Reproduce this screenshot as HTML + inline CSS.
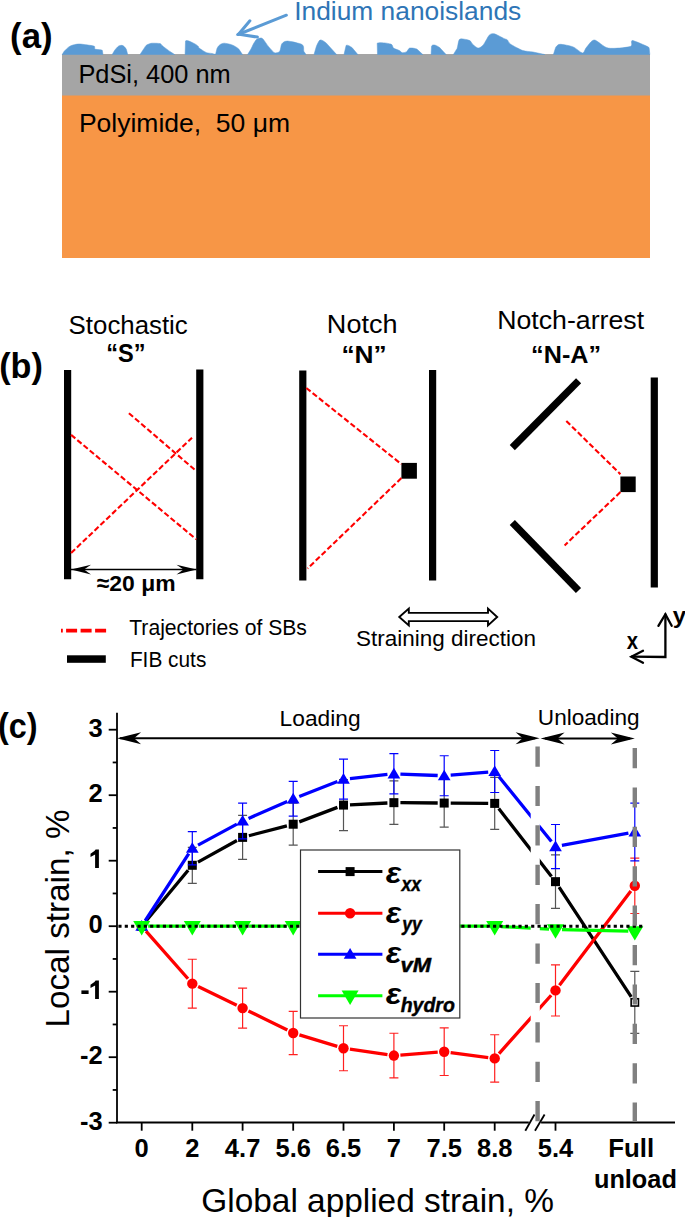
<!DOCTYPE html>
<html><head><meta charset="utf-8"><style>
html,body{margin:0;padding:0;background:#fff;}
body{width:685px;height:1217px;overflow:hidden;}
svg{display:block;font-family:"Liberation Sans", sans-serif;}
</style></head><body>
<svg width="685" height="1217" viewBox="0 0 685 1217">
<rect x="62" y="54" width="588" height="42" fill="#A5A5A5"/>
<rect x="62" y="95.5" width="588" height="162.5" fill="#F79646"/>
<path d="M62.2,54.5L64,51.5C64.88,50.49 67.60,47.77 68.8,46.9C70.00,46.03 71.64,45.39 73,45C74.36,44.61 77.27,44.03 79,44C80.73,43.97 83.96,44.51 86,44.8C88.04,45.09 93.10,45.63 94.3,46.2C95.50,46.77 93.93,48.55 95,49.1C96.07,49.65 101.23,49.58 102.3,50.3L103,54.5Z" fill="#5B9BD5" stroke="#5B9BD5" stroke-width="0.5" stroke-linejoin="round"/>
<path d="M112.2,54.5L114.5,50.5C115.33,49.39 117.40,46.89 118.4,46.2C119.40,45.51 121.23,45.25 122,45.3C122.77,45.35 123.61,46.04 124.2,46.6C124.79,47.16 125.93,48.45 126.4,49.5L127.7,54.5Z" fill="#5B9BD5" stroke="#5B9BD5" stroke-width="0.5" stroke-linejoin="round"/>
<path d="M140,54.5L143,50C143.81,48.79 145.30,46.20 146.1,45.4C146.90,44.60 148.21,44.29 149,44C149.79,43.71 150.53,43.25 152,43.2C153.47,43.15 158.67,43.29 160,43.6C161.33,43.91 161.23,44.86 162,45.5C162.77,46.14 164.73,47.60 165.8,48.4C166.87,49.20 168.83,50.69 170,51.5L174.6,54.5Z" fill="#5B9BD5" stroke="#5B9BD5" stroke-width="0.5" stroke-linejoin="round"/>
<path d="M185.1,54.5L185.5,41C186.63,39.49 191.91,42.51 193.6,43.2C195.29,43.89 197.52,45.61 198.2,46.2C198.88,46.79 198.19,47.09 198.7,47.6C199.21,48.11 200.93,49.32 202,50C203.07,50.68 205.37,52.23 206.7,52.7C208.03,53.17 210.83,53.26 212,53.5L215.5,54.5Z" fill="#5B9BD5" stroke="#5B9BD5" stroke-width="0.5" stroke-linejoin="round"/>
<path d="M215.5,54.5L217,48.4C217.59,47.09 218.94,45.39 219.9,44.7C220.86,44.01 222.65,43.20 224.2,43.2C225.75,43.20 229.93,44.19 231.5,44.7C233.07,45.21 235.03,46.41 236,47C236.97,47.59 237.93,48.10 238.8,49.1L242.5,54.5Z" fill="#5B9BD5" stroke="#5B9BD5" stroke-width="0.5" stroke-linejoin="round"/>
<path d="M247.6,54.5L251,49C251.77,47.60 252.68,45.25 253.4,44C254.12,42.75 255.52,40.39 256.4,39.6C257.28,38.81 259.13,38.19 260,38.1C260.87,38.01 261.73,37.73 262.9,38.9C264.07,40.07 267.24,45.06 268.8,46.9C270.36,48.74 273.15,52.11 274.6,52.7C276.05,53.29 278.73,52.50 279.7,51.3C280.67,50.10 280.83,45.06 281.9,43.7C282.97,42.34 284.98,40.97 287.7,41.1C290.42,41.23 300.15,43.34 302.3,44.7C304.45,46.06 303.31,49.99 303.8,51.3L306,54.5Z" fill="#5B9BD5" stroke="#5B9BD5" stroke-width="0.5" stroke-linejoin="round"/>
<path d="M314,54.5L316.2,46.9C317.01,44.97 318.74,40.49 320.1,40C321.46,39.51 324.20,41.27 326.4,43.2L336.6,54.5Z" fill="#5B9BD5" stroke="#5B9BD5" stroke-width="0.5" stroke-linejoin="round"/>
<path d="M344,54.5L346.1,45.4C347.17,44.48 350.44,46.39 352,47.6L357.8,54.5Z" fill="#5B9BD5" stroke="#5B9BD5" stroke-width="0.5" stroke-linejoin="round"/>
<path d="M377.5,54.5L377.2,43.2C378.96,41.80 388.51,43.35 390.7,44C392.89,44.65 392.44,47.23 393.6,48.1C394.76,48.97 398.24,49.89 399.4,50.5C400.56,51.11 401.33,52.54 402.3,52.7C403.27,52.86 405.73,52.31 406.7,51.7C407.67,51.09 408.24,48.45 409.6,48.1C410.96,47.75 415.14,48.25 416.9,49.1L422.8,54.5Z" fill="#5B9BD5" stroke="#5B9BD5" stroke-width="0.5" stroke-linejoin="round"/>
<path d="M431.1,54.5L431.5,46.2C431.95,44.93 433.42,44.81 434.5,45C435.58,45.19 438.05,46.33 439.6,47.6L446.1,54.5Z" fill="#5B9BD5" stroke="#5B9BD5" stroke-width="0.5" stroke-linejoin="round"/>
<path d="M453.4,54.5L457.1,48.4C457.89,46.41 458.33,40.83 459.3,39.6C460.27,38.37 462.95,39.04 464.4,39.2C465.85,39.36 469.13,40.16 470.2,40.8C471.27,41.44 471.33,43.03 472.4,44C473.47,44.97 476.73,48.01 478.2,48.1C479.67,48.19 481.93,46.42 483.4,44.7C484.87,42.98 487.75,36.65 489.2,35.2C490.65,33.75 492.35,33.37 494.3,33.8C496.25,34.23 502.05,37.59 503.8,38.4C505.55,39.21 506.52,39.15 507.4,39.9C508.28,40.65 508.35,42.59 510.4,44C512.45,45.41 519.79,49.43 522.8,50.5C525.81,51.57 530.08,51.47 533,52L544.7,54.5Z" fill="#5B9BD5" stroke="#5B9BD5" stroke-width="0.5" stroke-linejoin="round"/>
<path d="M553.4,54.5L555.6,47.6C556.48,46.24 557.67,44.39 560,44.3C562.33,44.21 570.09,45.74 573.1,46.9C576.11,48.06 580.84,52.91 582.6,53C584.36,53.09 584.74,49.33 586.3,47.6C587.86,45.87 591.38,39.93 594.3,40C597.22,40.07 603.44,47.22 608.2,48.1C612.96,48.98 626.89,47.49 630,46.6C633.11,45.71 631.01,42.17 631.5,41.4C631.99,40.63 631.55,40.11 633.7,40.8C635.85,41.49 645.52,45.49 647.6,46.6C649.68,47.71 649.01,48.05 649.3,49.1L649.8,54.5Z" fill="#5B9BD5" stroke="#5B9BD5" stroke-width="0.5" stroke-linejoin="round"/>
<g stroke="#5B9BD5" stroke-width="3" stroke-linecap="round" fill="none"><line x1="286.4" y1="15.2" x2="238" y2="34.5"/><polyline points="249.9,20.8 238.6,34.2 257.4,37.1" stroke-linejoin="miter"/></g>
<text x="294.17" y="19.6" font-size="25.6" text-anchor="start" fill="#2E75B6" textLength="227.08" lengthAdjust="spacingAndGlyphs" >Indium nanoislands</text>
<text x="78.42" y="82.6" font-size="26" text-anchor="start" textLength="152.25" lengthAdjust="spacingAndGlyphs" >PdSi, 400 nm</text>
<text x="78.93" y="131.9" font-size="26" text-anchor="start" textLength="211.12" lengthAdjust="spacingAndGlyphs" >Polyimide,&#160; 50 μm</text>
<text x="10.07" y="48.3" font-size="35.7" text-anchor="start" font-weight="bold" textLength="42.46" lengthAdjust="spacingAndGlyphs" >(a)</text>
<text x="-0.8" y="378" font-size="35.7" text-anchor="start" font-weight="bold" textLength="43.71" lengthAdjust="spacingAndGlyphs" >(b)</text>
<text x="68.63" y="334" font-size="25.3" text-anchor="start" textLength="119.15" lengthAdjust="spacingAndGlyphs" >Stochastic</text>
<text x="106.26" y="362.2" font-size="25" text-anchor="start" font-weight="bold" textLength="39.29" lengthAdjust="spacingAndGlyphs" >“S”</text>
<text x="326.88" y="333.4" font-size="25.5" text-anchor="start" textLength="70.57" lengthAdjust="spacingAndGlyphs" >Notch</text>
<text x="341.46" y="363.4" font-size="24.8" text-anchor="start" font-weight="bold" textLength="45.29" lengthAdjust="spacingAndGlyphs" >“N”</text>
<text x="497.21" y="329.4" font-size="25.2" text-anchor="start" textLength="146.89" lengthAdjust="spacingAndGlyphs" >Notch-arrest</text>
<text x="531.14" y="362.5" font-size="24.8" text-anchor="start" font-weight="bold" textLength="69.92" lengthAdjust="spacingAndGlyphs" >“N-A”</text>
<line x1="67.6" y1="370" x2="67.6" y2="579.3" stroke="#000" stroke-width="7.2"/>
<line x1="199.8" y1="369.4" x2="199.8" y2="579.3" stroke="#000" stroke-width="7.2"/>
<line x1="302.8" y1="370.4" x2="302.8" y2="580.6" stroke="#000" stroke-width="7.2"/>
<line x1="432.6" y1="369.9" x2="432.6" y2="580.6" stroke="#000" stroke-width="7.2"/>
<line x1="654.3" y1="377.4" x2="654.3" y2="587.5" stroke="#000" stroke-width="7.2"/>
<line x1="512.3" y1="447.6" x2="578.6" y2="380.8" stroke="#000" stroke-width="7.2"/>
<line x1="512.3" y1="522.5" x2="578.5" y2="590.5" stroke="#000" stroke-width="7.2"/>
<rect x="401.4" y="462.9" width="15.5" height="15.8"/>
<rect x="620.4" y="476.5" width="15.3" height="15.6"/>
<line x1="71.1" y1="434.9" x2="196.2" y2="539.3" stroke="#FF0000" stroke-width="2.1" stroke-dasharray="5.5,2.6" fill="none"/>
<line x1="71.1" y1="553" x2="192" y2="437.7" stroke="#FF0000" stroke-width="2.1" stroke-dasharray="5.5,2.6" fill="none"/>
<line x1="128.9" y1="413.2" x2="196.2" y2="471" stroke="#FF0000" stroke-width="2.1" stroke-dasharray="5.5,2.6" fill="none"/>
<line x1="306.3" y1="388" x2="401.4" y2="464.2" stroke="#FF0000" stroke-width="2.1" stroke-dasharray="5.5,2.6" fill="none"/>
<line x1="401.4" y1="478.1" x2="307.6" y2="568.5" stroke="#FF0000" stroke-width="2.1" stroke-dasharray="5.5,2.6" fill="none"/>
<line x1="566.3" y1="421" x2="620.4" y2="474.2" stroke="#FF0000" stroke-width="2.1" stroke-dasharray="5.5,2.6" fill="none"/>
<line x1="620.4" y1="492.1" x2="564.6" y2="545.4" stroke="#FF0000" stroke-width="2.1" stroke-dasharray="5.5,2.6" fill="none"/>
<line x1="71" y1="569.6" x2="196.5" y2="569.6" stroke="#000" stroke-width="1.5"/>
<path d="M71,569.6 L91,564.8 L84,569.6 L91,574.4 Z" fill="#000"/>
<path d="M196.5,569.6 L176.5,564.8 L183.5,569.6 L176.5,574.4 Z" fill="#000"/>
<text x="96.72" y="590.8" font-size="22.8" text-anchor="start" font-weight="bold" textLength="78.8" lengthAdjust="spacingAndGlyphs" >≈20 μm</text>
<line x1="61" y1="630.6" x2="106.2" y2="630.6" stroke="#FF0000" stroke-width="3.8" stroke-dasharray="1.8,3.3,11,3.5,11,3.5,11"/>
<rect x="67" y="655.3" width="38.8" height="7.5"/>
<text x="129.23" y="634.7" font-size="21.8" text-anchor="start" textLength="177.73" lengthAdjust="spacingAndGlyphs" >Trajectories of SBs</text>
<text x="129.89" y="667" font-size="21.8" text-anchor="start" textLength="76.46" lengthAdjust="spacingAndGlyphs" >FIB cuts</text>
<path d="M399.3,617 L408.8,608.6 L408.8,612.9 L488,612.9 L488,608.6 L497.2,617 L488,625.4 L488,621.1 L408.8,621.1 L408.8,625.4 Z" fill="#fff" stroke="#000" stroke-width="1.9" stroke-linejoin="miter"/>
<text x="355.98" y="645.5" font-size="21.6" text-anchor="start" textLength="179.98" lengthAdjust="spacingAndGlyphs" >Straining direction</text>
<g stroke="#000" stroke-width="2.3" fill="none" stroke-linecap="round"><polyline points="665.4,614.5 665.4,657 631.8,656.7"/><polyline points="658.4,625.8 665.4,614.2 671.7,625.8"/><polyline points="643,650.8 631.4,656.7 643,662.8"/></g>
<text x="626.66" y="648.9" font-size="23" text-anchor="start" font-weight="bold" textLength="11.29" lengthAdjust="spacingAndGlyphs" >x</text>
<text x="672.81" y="622.9" font-size="22.6" text-anchor="start" font-weight="bold" textLength="13.32" lengthAdjust="spacingAndGlyphs" >y</text>
<text x="-2.11" y="737.6" font-size="35.7" text-anchor="start" font-weight="bold" textLength="39.63" lengthAdjust="spacingAndGlyphs" >(c)</text>
<line x1="117" y1="712.8" x2="117" y2="1123.3" stroke="#000" stroke-width="1.8"/>
<line x1="116.1" y1="1122.5" x2="528.8" y2="1122.5" stroke="#000" stroke-width="1.8"/>
<line x1="541.1" y1="1122.5" x2="675" y2="1122.5" stroke="#000" stroke-width="1.8"/>
<g stroke="#000" stroke-width="1.8"><line x1="525.3" y1="1130.7" x2="534.5" y2="1114.5"/><line x1="535" y1="1130.7" x2="544.6" y2="1114.5"/></g>
<line x1="108.7" y1="1122.7" x2="117" y2="1122.7" stroke="#000" stroke-width="1.8"/>
<text x="102.8" y="1129.9" font-size="25.5" text-anchor="end" font-weight="bold" >-3</text>
<line x1="108.7" y1="1057.2" x2="117" y2="1057.2" stroke="#000" stroke-width="1.8"/>
<text x="102.8" y="1064.4" font-size="25.5" text-anchor="end" font-weight="bold" >-2</text>
<line x1="108.7" y1="991.7" x2="117" y2="991.7" stroke="#000" stroke-width="1.8"/>
<path d="M98.9,980.60V998.90H95.1V985.40L90.5,988.00V984.80L94.4,982.10L95.6,980.60Z" fill="#000"/>
<rect x="81.4" y="990.40" width="7.2" height="3.6" fill="#000"/>
<line x1="108.7" y1="926.2" x2="117" y2="926.2" stroke="#000" stroke-width="1.8"/>
<text x="102.8" y="933.4000000000001" font-size="25.5" text-anchor="end" font-weight="bold" >0</text>
<line x1="108.7" y1="860.7" x2="117" y2="860.7" stroke="#000" stroke-width="1.8"/>
<path d="M98.9,849.60V867.90H95.1V854.40L90.5,857.00V853.80L94.4,851.10L95.6,849.60Z" fill="#000"/>
<line x1="108.7" y1="795.2" x2="117" y2="795.2" stroke="#000" stroke-width="1.8"/>
<text x="102.8" y="802.4000000000001" font-size="25.5" text-anchor="end" font-weight="bold" >2</text>
<line x1="108.7" y1="729.7" x2="117" y2="729.7" stroke="#000" stroke-width="1.8"/>
<text x="102.8" y="736.9000000000001" font-size="25.5" text-anchor="end" font-weight="bold" >3</text>
<line x1="112.7" y1="1089.95" x2="117" y2="1089.95" stroke="#000" stroke-width="1.8"/>
<line x1="112.7" y1="1024.45" x2="117" y2="1024.45" stroke="#000" stroke-width="1.8"/>
<line x1="112.7" y1="958.95" x2="117" y2="958.95" stroke="#000" stroke-width="1.8"/>
<line x1="112.7" y1="893.45" x2="117" y2="893.45" stroke="#000" stroke-width="1.8"/>
<line x1="112.7" y1="827.95" x2="117" y2="827.95" stroke="#000" stroke-width="1.8"/>
<line x1="112.7" y1="762.45" x2="117" y2="762.45" stroke="#000" stroke-width="1.8"/>
<line x1="141.7" y1="1122.5" x2="141.7" y2="1130.7" stroke="#000" stroke-width="1.8"/>
<text x="141.7" y="1156.8" font-size="25.5" text-anchor="middle" font-weight="bold" >0</text>
<line x1="192.3" y1="1122.5" x2="192.3" y2="1130.7" stroke="#000" stroke-width="1.8"/>
<text x="192.3" y="1156.8" font-size="25.5" text-anchor="middle" font-weight="bold" >2</text>
<line x1="242.6" y1="1122.5" x2="242.6" y2="1130.7" stroke="#000" stroke-width="1.8"/>
<text x="242.6" y="1156.8" font-size="25.5" text-anchor="middle" font-weight="bold" >4.7</text>
<line x1="293.2" y1="1122.5" x2="293.2" y2="1130.7" stroke="#000" stroke-width="1.8"/>
<text x="293.2" y="1156.8" font-size="25.5" text-anchor="middle" font-weight="bold" >5.6</text>
<line x1="343.5" y1="1122.5" x2="343.5" y2="1130.7" stroke="#000" stroke-width="1.8"/>
<text x="343.5" y="1156.8" font-size="25.5" text-anchor="middle" font-weight="bold" >6.5</text>
<line x1="393.9" y1="1122.5" x2="393.9" y2="1130.7" stroke="#000" stroke-width="1.8"/>
<text x="393.9" y="1156.8" font-size="25.5" text-anchor="middle" font-weight="bold" >7</text>
<line x1="444.2" y1="1122.5" x2="444.2" y2="1130.7" stroke="#000" stroke-width="1.8"/>
<text x="444.2" y="1156.8" font-size="25.5" text-anchor="middle" font-weight="bold" >7.5</text>
<line x1="494.7" y1="1122.5" x2="494.7" y2="1130.7" stroke="#000" stroke-width="1.8"/>
<text x="494.7" y="1156.8" font-size="25.5" text-anchor="middle" font-weight="bold" >8.8</text>
<line x1="555.5" y1="1122.5" x2="555.5" y2="1130.7" stroke="#000" stroke-width="1.8"/>
<text x="555.5" y="1156.8" font-size="25.5" text-anchor="middle" font-weight="bold" >5.4</text>
<text x="608.37" y="1157" font-size="25.5" text-anchor="start" font-weight="bold" textLength="45.85" lengthAdjust="spacingAndGlyphs" >Full</text>
<text x="593.93" y="1188.4" font-size="25.5" text-anchor="start" font-weight="bold" textLength="82.94" lengthAdjust="spacingAndGlyphs" >unload</text>
<text x="201.32" y="1211.5" font-size="33" text-anchor="start" textLength="352.57" lengthAdjust="spacingAndGlyphs" >Global applied strain, %</text>
<text transform="translate(68.6,1024.8) rotate(-90)" x="-2.73" y="0" font-size="33" textLength="218.01" lengthAdjust="spacingAndGlyphs">Local strain, %</text>
<line x1="120" y1="738.2" x2="535" y2="738.2" stroke="#000" stroke-width="2"/>
<path d="M117.1,738.2 L141.1,732.2 L134.1,738.2 L141.1,744.2 Z" fill="#000"/>
<path d="M539.6,738.2 L515.6,732.2 L522.6,738.2 L515.6,744.2 Z" fill="#000"/>
<line x1="545" y1="738.6" x2="630" y2="738.6" stroke="#000" stroke-width="2"/>
<path d="M540.6,738.6 L564.6,732.6 L557.6,738.6 L564.6,744.6 Z" fill="#000"/>
<path d="M634.8,738.6 L610.8,732.6 L617.8,738.6 L610.8,744.6 Z" fill="#000"/>
<text x="279.63" y="725.5" font-size="22" text-anchor="start" textLength="80.93" lengthAdjust="spacingAndGlyphs" >Loading</text>
<text x="537.86" y="725" font-size="22" text-anchor="start" textLength="101.7" lengthAdjust="spacingAndGlyphs" >Unloading</text>
<clipPath id="brk"><rect x="0" y="0" width="530.7" height="1217"/><rect x="539.8" y="0" width="685" height="1217"/></clipPath>
<path d="M145.85,921.20L188.15,870.28M197.98,862.13L236.92,840.54M248.89,835.75L286.91,825.85M299.28,821.91L337.42,807.40M349.99,804.78L387.41,802.98M400.40,802.72L437.70,803.01M450.70,803.10L488.20,803.35M498.69,808.52L551.51,876.53M559.07,887.09L631.23,996.94" fill="none" stroke="#000" stroke-width="3.3" clip-path="url(#brk)"/>
<path d="M192.3,847.29V883.29M187.8,847.29H196.8M187.8,883.29H196.8M242.6,815.38V859.38M238.1,815.38H247.1M238.1,859.38H247.1M293.2,803.22V845.22M288.7,803.22H297.7M288.7,845.22H297.7M343.5,779.49V830.69M339.0,779.49H348.0M339.0,830.69H348.0M393.9,780.97V824.37M389.4,780.97H398.4M389.4,824.37H398.4M444.2,779.06V827.06M439.7,779.06H448.7M439.7,827.06H448.7M494.7,777.39V829.39M490.2,777.39H499.2M490.2,829.39H499.2M555.5,854.91V908.41M551.0,854.91H560.0M551.0,908.41H560.0M634.8,971.38V1033.38M630.3,971.38H639.3M630.3,1033.38H639.3" stroke="#555555" stroke-width="1.2" fill="none"/>
<rect x="137.20" y="921.70" width="9" height="9" fill="#000"/>
<rect x="187.80" y="860.79" width="9" height="9" fill="#000"/>
<rect x="238.10" y="832.88" width="9" height="9" fill="#000"/>
<rect x="288.70" y="819.72" width="9" height="9" fill="#000"/>
<rect x="339.00" y="800.59" width="9" height="9" fill="#000"/>
<rect x="389.40" y="798.17" width="9" height="9" fill="#000"/>
<rect x="439.70" y="798.56" width="9" height="9" fill="#000"/>
<rect x="490.20" y="798.89" width="9" height="9" fill="#000"/>
<rect x="551.00" y="877.16" width="9" height="9" fill="#000"/>
<rect x="631.15" y="998.73" width="7.3" height="7.3" fill="#fff" stroke="#000" stroke-width="1.6"/>
<path d="M146.00,931.08L188.00,978.77M198.15,986.48L236.75,1005.24M248.43,1010.94L287.37,1030.10M299.42,1034.85L337.28,1046.34M349.93,1049.16L387.47,1054.63M400.38,1055.06L437.72,1052.20M450.64,1052.55L488.26,1057.53M499.03,1053.53L551.17,995.24M559.43,985.21L630.87,890.97" fill="none" stroke="#FF0000" stroke-width="3.3" clip-path="url(#brk)"/>
<path d="M192.3,959.24V1008.04M187.8,959.24H196.8M187.8,1008.04H196.8M242.6,988.08V1028.08M238.1,988.08H247.1M238.1,1028.08H247.1M293.2,1011.37V1054.57M288.7,1011.37H297.7M288.7,1054.57H297.7M343.5,1025.73V1070.73M339.0,1025.73H348.0M339.0,1070.73H348.0M393.9,1033.26V1077.86M389.4,1033.26H398.4M389.4,1077.86H398.4M444.2,1027.90V1075.50M439.7,1027.90H448.7M439.7,1075.50H448.7M494.7,1034.73V1082.03M490.2,1034.73H499.2M490.2,1082.03H499.2M555.5,964.79V1015.99M551.0,964.79H560.0M551.0,1015.99H560.0M634.8,858.09V913.49M630.3,858.09H639.3M630.3,913.49H639.3" stroke="#FF2020" stroke-width="1.2" fill="none"/>
<circle cx="141.7" cy="926.20" r="5.2" fill="#FF0000"/>
<circle cx="192.3" cy="983.64" r="5.2" fill="#FF0000"/>
<circle cx="242.6" cy="1008.08" r="5.2" fill="#FF0000"/>
<circle cx="293.2" cy="1032.97" r="5.2" fill="#FF0000"/>
<circle cx="343.5" cy="1048.23" r="5.2" fill="#FF0000"/>
<circle cx="393.9" cy="1055.56" r="5.2" fill="#FF0000"/>
<circle cx="444.2" cy="1051.70" r="5.2" fill="#FF0000"/>
<circle cx="494.7" cy="1058.38" r="5.2" fill="#FF0000"/>
<circle cx="555.5" cy="990.39" r="5.2" fill="#FF0000"/>
<circle cx="634.8" cy="885.79" r="5.2" fill="#FF0000"/>
<path d="M145.24,920.75L188.76,853.71M198.02,845.16L236.88,824.10M248.55,818.40L287.25,801.41M299.26,796.44L337.44,781.58M349.96,778.52L387.44,774.48M400.40,774.04L437.70,775.49M450.68,775.20L488.22,772.04M498.79,776.54L551.41,841.56M561.89,845.44L628.41,833.19" fill="none" stroke="#0000FF" stroke-width="3.3" clip-path="url(#brk)"/>
<path d="M192.3,831.66V864.86M187.8,831.66H196.8M187.8,864.86H196.8M242.6,803.21V838.81M238.1,803.21H247.1M238.1,838.81H247.1M293.2,781.40V816.20M288.7,781.40H297.7M288.7,816.20H297.7M343.5,759.22V799.22M339.0,759.22H348.0M339.0,799.22H348.0M393.9,753.68V793.88M389.4,753.68H398.4M389.4,793.88H398.4M444.2,755.75V795.75M439.7,755.75H448.7M439.7,795.75H448.7M494.7,750.49V792.49M490.2,750.49H499.2M490.2,792.49H499.2M555.5,824.52V868.72M551.0,824.52H560.0M551.0,868.72H560.0M634.8,803.11V860.91M630.3,803.11H639.3M630.3,860.91H639.3" stroke="#0000FF" stroke-width="1.2" fill="none"/>
<path d="M141.7,920.10L148.05,930.80L135.35,930.80Z" fill="#0000FF"/>
<path d="M192.3,842.16L198.65,852.86L185.95,852.86Z" fill="#0000FF"/>
<path d="M242.6,814.91L248.95,825.61L236.25,825.61Z" fill="#0000FF"/>
<path d="M293.2,792.70L299.55,803.40L286.85,803.40Z" fill="#0000FF"/>
<path d="M343.5,773.12L349.85,783.82L337.15,783.82Z" fill="#0000FF"/>
<path d="M393.9,767.68L400.25,778.38L387.55,778.38Z" fill="#0000FF"/>
<path d="M444.2,769.65L450.55,780.35L437.85,780.35Z" fill="#0000FF"/>
<path d="M494.7,765.39L501.05,776.09L488.35,776.09Z" fill="#0000FF"/>
<path d="M555.5,840.52L561.85,851.22L549.15,851.22Z" fill="#0000FF"/>
<path d="M634.8,825.91L641.15,836.61L628.45,836.61Z" fill="#0000FF"/>
<path d="M148.20,926.20L185.80,926.20M198.80,926.20L236.10,926.20M249.10,926.20L286.70,926.20M299.70,926.20L337.00,926.20M350.00,926.20L387.40,926.20M400.40,926.20L437.70,926.20M450.70,926.20L488.20,926.20M501.19,926.54L549.01,929.07M562.00,929.57L628.30,931.15" fill="none" stroke="#00FF00" stroke-width="3.3" clip-path="url(#brk)"/>
<path d="M133.20,921.10L150.20,921.10L141.7,935.50Z" fill="#00FF00"/>
<path d="M183.80,921.10L200.80,921.10L192.3,935.50Z" fill="#00FF00"/>
<path d="M234.10,921.10L251.10,921.10L242.6,935.50Z" fill="#00FF00"/>
<path d="M284.70,921.10L301.70,921.10L293.2,935.50Z" fill="#00FF00"/>
<path d="M335.00,921.10L352.00,921.10L343.5,935.50Z" fill="#00FF00"/>
<path d="M385.40,921.10L402.40,921.10L393.9,935.50Z" fill="#00FF00"/>
<path d="M435.70,921.10L452.70,921.10L444.2,935.50Z" fill="#00FF00"/>
<path d="M486.20,921.10L503.20,921.10L494.7,935.50Z" fill="#00FF00"/>
<path d="M547.00,924.31L564.00,924.31L555.5,938.71Z" fill="#00FF00"/>
<path d="M626.30,926.21L643.30,926.21L634.8,940.61Z" fill="#00FF00"/>
<line x1="118.4" y1="926.2" x2="644" y2="926.2" stroke="#000" stroke-width="3.1" stroke-dasharray="3.15,3.2"/>
<line x1="537.6" y1="746.5" x2="537.6" y2="1121.6" stroke="#808080" stroke-width="4.4" stroke-dasharray="20.2,19.2"/>
<line x1="634.8" y1="748" x2="634.8" y2="1121.6" stroke="#808080" stroke-width="4.4" stroke-dasharray="20.2,19.2"/>
<rect x="300.5" y="850" width="159.3" height="168" fill="#fff" stroke="#333" stroke-width="1.2"/>
<line x1="318.1" y1="871.6" x2="382.4" y2="871.6" stroke="#000" stroke-width="3"/>
<line x1="318.1" y1="913.3" x2="382.4" y2="913.3" stroke="#FF0000" stroke-width="3"/>
<line x1="318.1" y1="954.2" x2="382.4" y2="954.2" stroke="#0000FF" stroke-width="3"/>
<line x1="318.1" y1="995.7" x2="382.4" y2="995.7" stroke="#00FF00" stroke-width="3"/>
<rect x="345.60" y="867.10" width="9" height="9" fill="#000"/>
<circle cx="350.1" cy="913.30" r="5.2" fill="#FF0000"/>
<path d="M350.1,948.10L356.45,958.80L343.75,958.80Z" fill="#0000FF"/>
<path d="M341.60,990.60L358.60,990.60L350.1,1005.00Z" fill="#00FF00"/>
<text x="385.79" y="882.9" font-size="29.2" text-anchor="start" font-weight="bold" font-style="italic" textLength="15.51" lengthAdjust="spacingAndGlyphs" >ε</text>
<text x="401.56" y="891.20" font-size="20.5" font-weight="bold" font-style="italic" textLength="19.35" lengthAdjust="spacingAndGlyphs" stroke="#000" stroke-width="0.45">xx</text>
<text x="385.79" y="923.15" font-size="29.2" text-anchor="start" font-weight="bold" font-style="italic" textLength="15.51" lengthAdjust="spacingAndGlyphs" >ε</text>
<text x="402.33" y="931.45" font-size="20.5" font-weight="bold" font-style="italic" textLength="19.54" lengthAdjust="spacingAndGlyphs" stroke="#000" stroke-width="0.45">yy</text>
<text x="385.79" y="963.4" font-size="29.2" text-anchor="start" font-weight="bold" font-style="italic" textLength="15.51" lengthAdjust="spacingAndGlyphs" >ε</text>
<text x="400.42" y="971.70" font-size="20.5" font-weight="bold" font-style="italic" textLength="30.6" lengthAdjust="spacingAndGlyphs" stroke="#000" stroke-width="0.45">vM</text>
<text x="385.79" y="1003.65" font-size="29.2" text-anchor="start" font-weight="bold" font-style="italic" textLength="15.51" lengthAdjust="spacingAndGlyphs" >ε</text>
<text x="400.67" y="1011.95" font-size="20.5" font-weight="bold" font-style="italic" textLength="54.16" lengthAdjust="spacingAndGlyphs" stroke="#000" stroke-width="0.45">hydro</text>
</svg>
</body></html>
